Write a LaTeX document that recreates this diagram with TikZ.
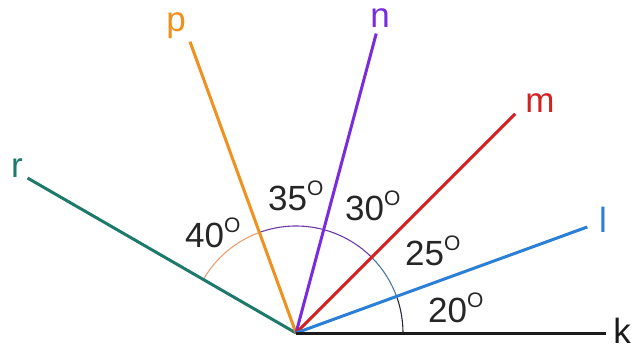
\documentclass[tikz,border=0pt]{standalone}
\usepackage{fontspec}
\setmainfont{Liberation Sans}
\definecolor{colk}{HTML}{1A1A1A}
\definecolor{coll}{HTML}{2A7FD6}
\definecolor{colm}{HTML}{D42020}
\definecolor{coln}{HTML}{7A2BE0}
\definecolor{colp}{HTML}{F0901E}
\definecolor{colr}{HTML}{1D7A6B}
\definecolor{arckl}{HTML}{2A2A3A}
\definecolor{arclm}{HTML}{4A78A8}
\definecolor{arcmp}{HTML}{6A3AA8}
\definecolor{arcpr}{HTML}{E8A070}
\newcommand{\mydgr}{\raisebox{15pt}{\fontsize{21}{21}\selectfont O}}
\begin{document}
\begin{tikzpicture}[x=1pt,y=1pt,
  ray/.style={line width=3pt},
  lbl/.style={font=\fontsize{35}{40}\selectfont, inner sep=0pt},
  ang/.style={font=\fontsize{35}{40}\selectfont, inner sep=0pt, text=black!85, anchor=base west},
  arcseg/.style={line width=1.1pt}]
\useasboundingbox (0,0) rectangle (636,354);
\coordinate (O) at (296,21);
\path (O) ++(0:310) coordinate (K);
\path (O) ++(20:310) coordinate (L);
\path (O) ++(45:310) coordinate (M);
\path (O) ++(75:310) coordinate (N);
\path (O) ++(110:310) coordinate (P);
\path (O) ++(150:310) coordinate (R);
% arcs
\draw[arcseg, arckl] (O) ++(0:107) arc[start angle=0, end angle=20, radius=107];
\draw[arcseg, arclm] (O) ++(20:107) arc[start angle=20, end angle=45, radius=107];
\draw[arcseg, arcmp] (O) ++(45:107) arc[start angle=45, end angle=110, radius=107];
\draw[arcseg, arcpr] (O) ++(110:107) arc[start angle=110, end angle=150, radius=107];
% rays
\draw[ray, colr] (O) -- (R);
\draw[ray, colp] (O) -- (P);
\draw[ray, coln] (O) -- (N);
\draw[ray, colm] (O) -- (M);
\draw[ray, coll] (O) -- (L);
\draw[ray, colk] (O) -- (K);
% ray labels
\node[lbl, text=colk] (kl) at (622,23) {k};
\node[lbl, text=coll] (ll) at (603,134) {l};
\node[lbl, text=colm] (ml) at (540,251) {m};
\node[lbl, text=coln] (nl) at (380,336) {n};
\node[lbl, text=colp] (pl) at (176,328) {p};
\node[lbl, text=colr] (rl) at (17,186) {r};
% angle labels
\node[ang] (a40) at (185,107) {40\mydgr};
\node[ang] (a35) at (268,144) {35\mydgr};
\node[ang] (a30) at (345,134) {30\mydgr};
\node[ang] (a25) at (405,89) {25\mydgr};
\node[ang] (a20) at (428,32) {20\mydgr};
\end{tikzpicture}
\end{document}
